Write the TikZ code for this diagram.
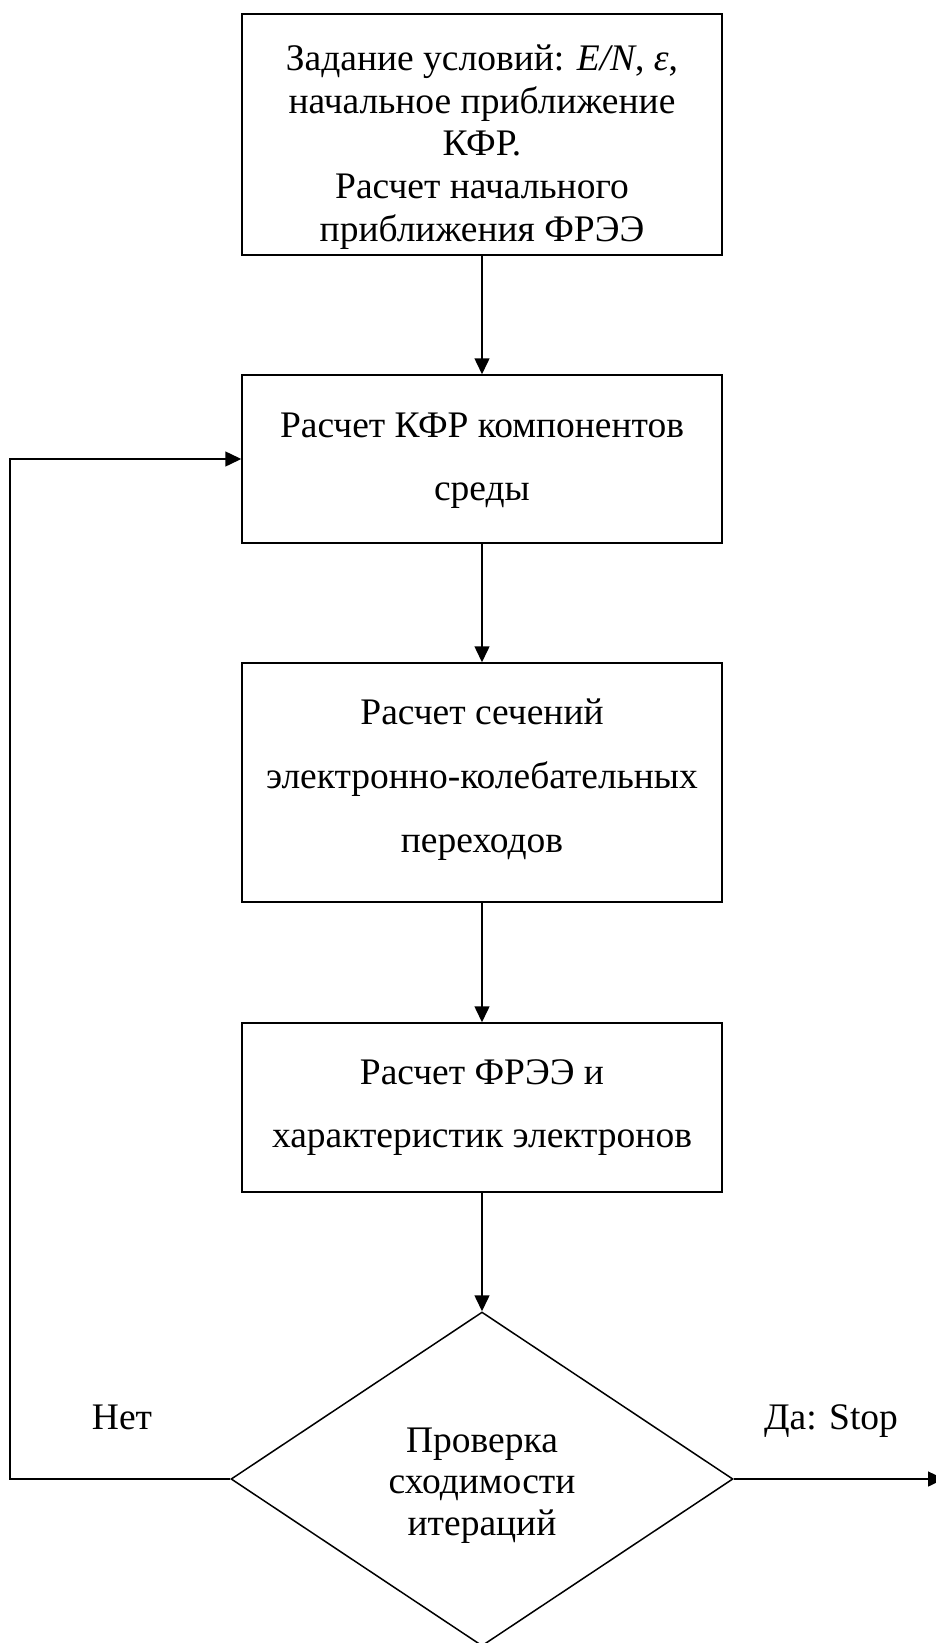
\documentclass[tikz,border=0pt]{standalone}
\usepackage{fontspec}
\setmainfont{Liberation Serif}
\usetikzlibrary{arrows.meta,shapes.geometric}
\begin{document}
\begin{tikzpicture}[x=1pt,y=-1pt,
  box/.style={draw,line width=1.5pt,minimum width=480pt,inner sep=0pt},
  dia/.style={draw,diamond,line width=1.5pt,minimum width=502pt,minimum height=334pt,inner sep=0pt},
  ln/.style={anchor=base,font=\fontsize{37.5}{40}\selectfont,inner sep=0pt},
  arr/.style={line width=1.5pt,-{Triangle[length=16pt,width=15pt]}}]
\useasboundingbox (0,0) rectangle (936,1643);
% boxes
\node[box,minimum height=241pt] (b1) at (482,134.5) {};
\node[box,minimum height=168pt] (b2) at (482,459) {};
\node[box,minimum height=239pt] (b3) at (482,782.5) {};
\node[box,minimum height=169pt] (b4) at (482,1107.5) {};
\node[dia] (d) at (482,1479) {};
% box 1 text
\node[ln] (t1a) at (482,71) {Задание условий: \textit{E/N}, {\itshape ε},};
\node[ln] (t1b) at (482,113.5) {начальное приближение};
\node[ln] (t1c) at (482,156) {КФР.};
\node[ln] (t1d) at (482,198.5) {Расчет начального};
\node[ln] (t1e) at (482,241) {приближения ФРЭЭ};
% box 2 text
\node[ln] (t2a) at (482,437) {Расчет КФР компонентов};
\node[ln] (t2b) at (482,500) {среды};
% box 3 text
\node[ln] (t3a) at (482,724) {Расчет сечений};
\node[ln] (t3b) at (482,788) {электронно-колебательных};
\node[ln] (t3c) at (482,852) {переходов};
% box 4 text
\node[ln] (t4a) at (482,1084) {Расчет ФРЭЭ и};
\node[ln] (t4b) at (482,1147) {характеристик электронов};
% diamond text
\node[ln] (tda) at (482,1452) {Проверка};
\node[ln] (tdb) at (482,1493) {сходимости};
\node[ln] (tdc) at (482,1535) {итераций};
% branch labels
\node[ln] (no) at (122,1429) {Нет};
\node[ln] (yes) at (831,1429) {Да: Stop};
% connectors
\draw[arr] (b1.south) -- (b2.north);
\draw[arr] (b2.south) -- (b3.north);
\draw[arr] (b3.south) -- (b4.north);
\draw[arr] (b4.south) -- (d.north);
\coordinate (cl) at (10,1479);
\draw[arr] (d.west) -- (cl) |- (b2.west);
\coordinate (stop) at (944,1479);
\draw[arr] (d.east) -- (stop);
\end{tikzpicture}
\end{document}
